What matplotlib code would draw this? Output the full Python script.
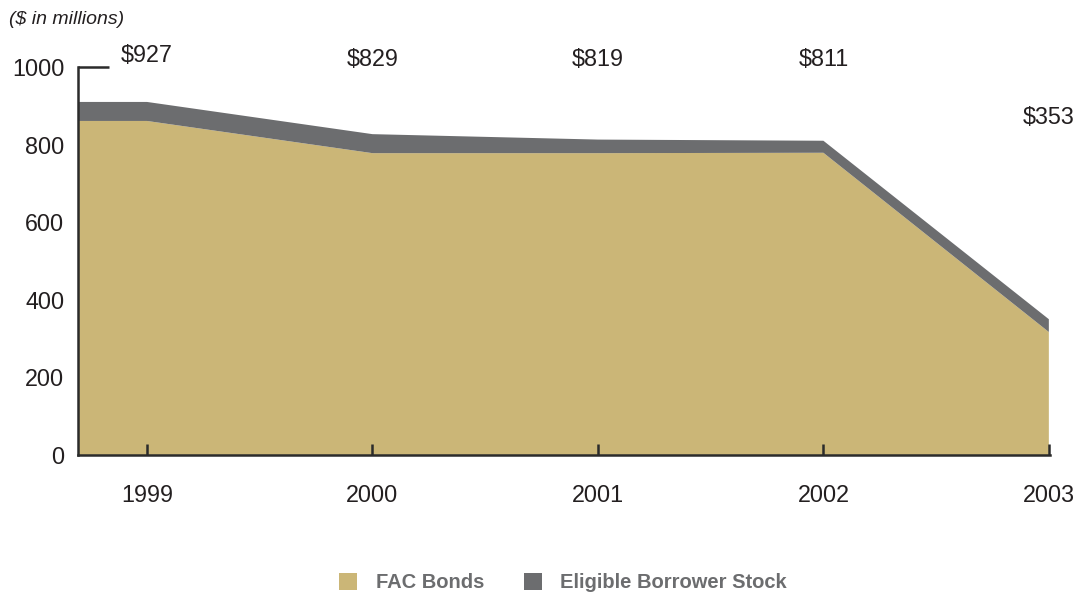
import matplotlib.pyplot as plt
from matplotlib.patches import Patch
import numpy as np

plt.rcParams['font.family'] = ['Liberation Sans', 'DejaVu Sans']

years = [1999, 2000, 2001, 2002, 2003]
fac_bonds = [861, 778, 778, 779, 317]
borrower_stock = [49, 49, 35, 31, 33]
total_labels = ['$927', '$829', '$819', '$811', '$353']
series_names = ['FAC Bonds', 'Eligible Borrower Stock']

gold = '#CBB677'
grey = '#6C6D6F'
ink = '#231F20'

fig = plt.figure(figsize=(10.81, 5.99), dpi=100)
ax = fig.add_axes([0.0722, 0.2404, 0.8991, 0.6477])

xmin = 1998.694
x = np.r_[xmin, years]
fac = np.r_[fac_bonds[0], fac_bonds]
ebs = np.r_[borrower_stock[0], borrower_stock]
ax.stackplot(x, fac, ebs, colors=[gold, grey], linewidth=0)

ax.set_xlim(xmin, 2003.005)
ax.set_ylim(0, 1000)

for s in ['top', 'right']:
    ax.spines[s].set_visible(False)
for s in ['left', 'bottom']:
    ax.spines[s].set_color('#2b2b2b')
    ax.spines[s].set_linewidth(1.8)

ax.set_xticks(years)
ax.set_xticklabels([str(y) for y in years])
ax.tick_params(axis='x', direction='in', length=8, width=1.8, color='#2b2b2b',
               pad=21, labelsize=16.8, labelcolor=ink)
ax.set_yticks([0, 200, 400, 600, 800, 1000])
ax.tick_params(axis='y', direction='in', length=0, width=1.8, color='#2b2b2b',
               pad=10, labelsize=16.8, labelcolor=ink)
# only the top y tick is drawn, as a bracket going right
top_tick = ax.yaxis.get_major_ticks()[-1]
top_tick.tick1line.set_markersize(22)

label_y = [1030, 1020, 1020, 1020, 870]
for yr, lab, ly in zip(years, total_labels, label_y):
    ax.text(yr, ly, lab, ha='center', va='center', fontsize=16.8,
            color=ink, clip_on=False)

fig.text(0.008, 0.968, '($ in millions)', style='italic', fontsize=14,
         color=ink, ha='left', va='center')

handles = [Patch(facecolor=gold, edgecolor='none'),
           Patch(facecolor=grey, edgecolor='none')]
leg = fig.legend(handles, series_names, loc='center', bbox_to_anchor=(0.521, 0.027),
                 ncol=2, frameon=False, handlelength=0.9, handleheight=0.9,
                 handletextpad=0.9, columnspacing=2.0,
                 prop={'weight': 'bold', 'size': 14.5})
for t in leg.get_texts():
    t.set_color(grey)

fig.savefig('out.png', dpi=100)
